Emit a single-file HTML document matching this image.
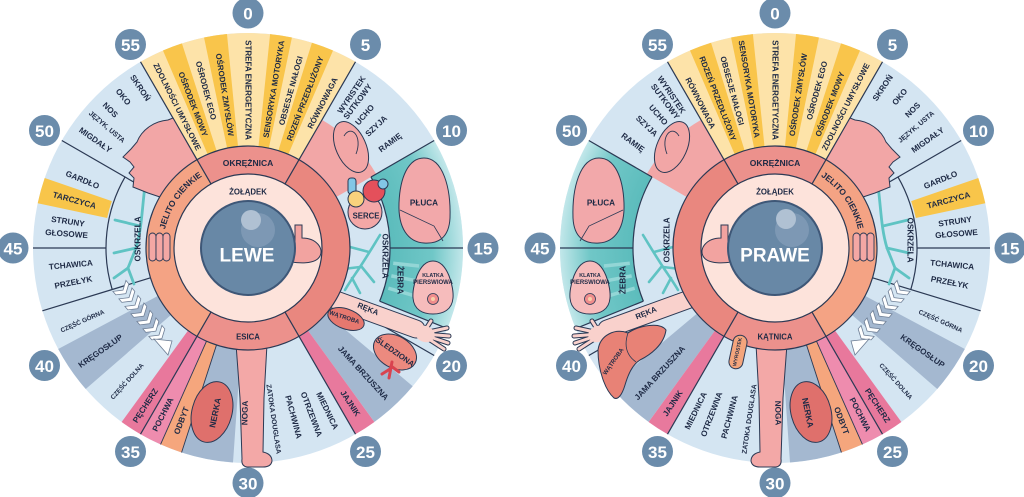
<!DOCTYPE html>
<html><head><meta charset="utf-8">
<style>
html,body{margin:0;padding:0;background:#fff;}
svg{display:block;}
text{font-family:"Liberation Sans",sans-serif;font-weight:700;fill:#1e2a45;}
.b{fill:#fff;font-size:17px;text-anchor:middle;dominant-baseline:central;}
.t{font-size:8.2px;text-anchor:middle;dominant-baseline:central;}
.c{font-size:8.2px;text-anchor:middle;dominant-baseline:central;}
.s85{font-size:8.5px;} .s8{font-size:8px;} .s78{font-size:7.8px;} .s7{font-size:7px;} .s64{font-size:6.4px;} .s6{font-size:6px;}
.s53{font-size:5.3px;} .s5{font-size:5px;}
.s18{font-size:19px;fill:#fff;}
</style></head><body>
<svg width="1024" height="497" viewBox="0 0 1024 497" xmlns="http://www.w3.org/2000/svg">
<defs>
<radialGradient id="teal" cx="0" cy="0" r="215" gradientUnits="userSpaceOnUse">
 <stop offset="0.66" stop-color="#5cbcbc"/>
 <stop offset="0.86" stop-color="#70c7c7"/>
 <stop offset="1" stop-color="#c2e7ea"/>
</radialGradient>
<path id="jcL" d="M163.3,255.4 A85,85 0 0 1 226,165.9" fill="none"/>
<path id="jcR" d="M797,165.9 A85,85 0 0 1 859.7,255.4" fill="none"/>
<path id="vert" d="M-8.5,-4 L0,1.5 L8.5,-4 L8.5,0.5 L0,6 L-8.5,0.5 Z"/>
<g id="eye">
 <circle r="215" fill="#d4e5f2"/>
 <g fill="none" stroke-width="113">
  <circle r="158.5" stroke="#fde3a9" stroke-dasharray="166 2000" transform="rotate(-120)"/>
  <circle r="158.5" stroke="#f9c54b" stroke-dasharray="14.94 2000" transform="rotate(-113.3)"/>
  <circle r="158.5" stroke="#f9c54b" stroke-dasharray="17.15 2000" transform="rotate(-101.8)"/>
  <circle r="158.5" stroke="#f9c54b" stroke-dasharray="16.32 2000" transform="rotate(-84.1)"/>
  <circle r="158.5" stroke="#f9c54b" stroke-dasharray="16.6 2000" transform="rotate(-72.7)"/>
  <circle r="158.5" stroke="#a4b8d0" stroke-dasharray="38.73 2000" transform="rotate(40)"/>
  <circle r="158.5" stroke="#e8799d" stroke-dasharray="16.6 2000" transform="rotate(54)"/>
  <circle r="158.5" stroke="#a4b8d0" stroke-dasharray="38.73 2000" transform="rotate(94)"/>
  <circle r="158.5" stroke="#f5a67d" stroke-dasharray="16.6 2000" transform="rotate(108)"/>
  <circle r="158.5" stroke="#ee8cae" stroke-dasharray="16.6 2000" transform="rotate(114)"/>
  <circle r="158.5" stroke="#e8789c" stroke-dasharray="16.6 2000" transform="rotate(120)"/>
  <circle r="158.5" stroke="#a4b8d0" stroke-dasharray="35.96 2000" transform="rotate(139)"/>
 </g>
 <circle r="178.5" fill="none" stroke="url(#teal)" stroke-width="73" stroke-dasharray="162 2000" transform="rotate(-30)"/>
 <circle r="179.5" fill="none" stroke="#f8c54a" stroke-width="71" stroke-dasharray="21.93 2000" transform="rotate(192)"/>
 <circle r="125" fill="none" stroke="#f2a6a6" stroke-width="46" stroke-dasharray="65.45 2000" transform="rotate(-60)"/>
 <g stroke="#93d6d6" stroke-width="3.5">
  <line y1="-146" y2="-172" transform="rotate(96)"/>
  <line y1="-146" y2="-172" transform="rotate(101)"/>
  <line y1="-146" y2="-172" transform="rotate(106)"/>
 </g>
 <g stroke="#2b3954" stroke-width="1.2" fill="none">
  <line y1="-102" y2="-215" transform="rotate(-30)"/>
  <line y1="-102" y2="-215" transform="rotate(30)"/>
  <line y1="-142" y2="-215" transform="rotate(60)"/>
  <line y1="-142" y2="-215" transform="rotate(90)"/>
  <line y1="-142" y2="-215" transform="rotate(112)"/>
  <line y1="-150" y2="-215" transform="rotate(120)"/>
  <line y1="-102" y2="-215" transform="rotate(150)"/>
  <line y1="-102" y2="-215" transform="rotate(198)" stroke-width="0.9"/>
  <line y1="-102" y2="-215" transform="rotate(204)" stroke-width="0.9"/>
  <line y1="-102" y2="-215" transform="rotate(210)"/>
  <line y1="-102" y2="-215" transform="rotate(253)"/>
  <line y1="-142" y2="-215" transform="rotate(270)"/>
  <line y1="-102" y2="-215" transform="rotate(300)"/>
  <circle r="142" stroke-dasharray="116.5 2000" transform="rotate(163)"/>
  <circle r="142" stroke-dasharray="128.9 2000" transform="rotate(-30)"/>
 </g>
 <g stroke="#5fc3c3" stroke-width="2.6" fill="none" stroke-linecap="round">
  <path d="M132,-13 C124,0 118,10 112,19 C106,28 101,35 97,42"/>
  <path d="M112,19 L95,21"/>
  <path d="M113,18 L126,34"/>
  <path d="M121,4 L102,-1"/>
  <path d="M104,30 L112,45"/>
 </g>
 <g stroke="#5fc3c3" stroke-width="2.8" fill="none" stroke-linecap="round">
  <path d="M-103,-62 C-106,-40 -106,-20 -112,0 L-120,20"/>
  <path d="M-112,0 L-134,5"/>
  <path d="M-108,-22 L-133,-28"/>
  <path d="M-120,20 L-134,30"/>
  <path d="M-120,20 L-114,36"/>
 </g>
 <path d="M176,-90 C195,-90 203,-60 202,-30 C201,-10 190,-4 176,-5 C160,-6 150,-20 151,-45 C152,-70 160,-90 176,-90 Z" fill="#f2a8aa" stroke="#2b3954" stroke-width="1"/>
 <path d="M152,-38 L186,-22 L195,-7" fill="none" stroke="#2b3954" stroke-width="0.8"/>
 <path d="M185,13 C200,13 206,40 205,50 C204,62 195,66 185,66 C175,66 166,62 165,50 C164,40 170,13 185,13 Z" fill="#f6bcbc" stroke="#2b3954" stroke-width="1"/>
 <circle cx="185" cy="51" r="5.5" fill="#ef8c8c" stroke="#2b3954" stroke-width="0.8"/>
 <circle cx="185" cy="51" r="2" fill="#f8d0a8"/>
 <path d="M-75,-130 L-51,-88 A102,102 0 0 0 -88,-51 L-100,-55 L-115,-61 L-114,-70 L-119,-75 L-114,-81 L-118,-86 L-125,-91 L-117,-99 L-111,-106 C-106,-119 -93,-127 -80,-128 Z" fill="#f2a6a6" stroke="#2b3954" stroke-width="1"/>
 <ellipse cx="103" cy="-101" rx="15" ry="27" transform="rotate(-24 103 -101)" fill="#f2a6a6" stroke="#2b3954" stroke-width="1"/>
 <path d="M96,-112 C103,-124 115,-112 108,-94" fill="none" stroke="#2b3954" stroke-width="0.9"/>
 <path d="M-12,96 L19,96 L16,150 L15,204 Q24,206 24,213 Q23,219 15,219 L-1,219 Q-7,218 -6,211 L-8,150 Z" fill="#f3a8a7" stroke="#2b3954" stroke-width="1"/>
 <ellipse cx="-36" cy="164" rx="20" ry="31" transform="rotate(15 -36 164)" fill="#df706c" stroke="#2b3954" stroke-width="1"/>
 <g fill="#fff" stroke="#6f7f96" stroke-width="0.8">
  <use href="#vert" transform="translate(-126,41) rotate(-40)"/>
  <use href="#vert" transform="translate(-120,48.5) rotate(-40)"/>
  <use href="#vert" transform="translate(-114,56) rotate(-40)"/>
  <use href="#vert" transform="translate(-108,63.5) rotate(-40)"/>
  <use href="#vert" transform="translate(-102,71) rotate(-40)"/>
  <use href="#vert" transform="translate(-96,78.5) rotate(-40)"/>
  <use href="#vert" transform="translate(-90,86) rotate(-40)"/>
  <path d="M-94,91 L-76,93 L-80,107 Z"/>
 </g>
 <line x1="77" y1="48" x2="168" y2="81" stroke="#2b3954" stroke-width="19" stroke-linecap="round"/>
 <g stroke="#2b3954" stroke-width="5" stroke-linecap="round">
  <line x1="176" y1="85" x2="199" y2="80"/><line x1="176" y1="86" x2="201" y2="88"/>
  <line x1="176" y1="87" x2="200" y2="95"/><line x1="176" y1="88" x2="196" y2="101"/>
  <line x1="176" y1="84" x2="183" y2="73"/>
 </g>
 <line x1="77" y1="48" x2="168" y2="81" stroke="#f9d1cc" stroke-width="17" stroke-linecap="round"/>
 <g stroke="#f9d1cc" stroke-width="3" stroke-linecap="round">
  <line x1="176" y1="85" x2="199" y2="80"/><line x1="176" y1="86" x2="201" y2="88"/>
  <line x1="176" y1="87" x2="200" y2="95"/><line x1="176" y1="88" x2="196" y2="101"/>
  <line x1="176" y1="84" x2="183" y2="73"/>
 </g>
 <ellipse cx="177" cy="86" rx="10" ry="8" transform="rotate(20 177 86)" fill="#f9d1cc"/>
 <g fill="none" stroke-width="28">
  <circle r="88" stroke="#f4a384" stroke-dasharray="184.3 2000" transform="rotate(120)"/>
  <circle r="88" stroke="#e9877f" stroke-dasharray="184.3 2000" transform="rotate(-60)"/>
  <circle r="88" stroke="#ec918c" stroke-dasharray="92.15 2000" transform="rotate(-120)"/>
  <circle r="88" stroke="#ec918c" stroke-dasharray="92.15 2000" transform="rotate(60)"/>
 </g>
 <circle r="74" fill="#fde3db"/>
 <g stroke="#2b3954" stroke-width="1.2" fill="none">
  <circle r="102"/><circle r="74"/>
  <line y1="-74" y2="-102" transform="rotate(-30)"/>
  <line y1="-74" y2="-102" transform="rotate(30)"/>
  <line y1="-74" y2="-102" transform="rotate(150)"/>
  <line y1="-74" y2="-102" transform="rotate(210)"/>
 </g>
 <g fill="#f4a7a4" stroke="#2b3954" stroke-width="0.9">
  <rect x="-99" y="-15" width="7" height="28" rx="3.5"/>
  <rect x="-92" y="-15" width="7" height="28" rx="3.5"/>
  <rect x="-85" y="-15" width="7" height="28" rx="3.5"/>
 </g>
 <path d="M47,-23 L54,-23 L54,-10 C68,-10 76,0 72,8 C68,16 52,17 29,11 L30,5 C40,7 47,4 47,-4 Z" fill="#f2a3a0" stroke="#2b3954" stroke-width="1"/>
 <circle r="47" fill="#6888a6" stroke="#3e5777" stroke-width="2"/>
</g>
</defs>

<use href="#eye" transform="translate(248,248)"/>
<use href="#eye" transform="translate(775,248) scale(-1,1)"/>

<circle cx="258" cy="230" r="17" fill="#7d98b4"/>
<circle cx="251" cy="220" r="10" fill="#b0c1d3"/>
<circle cx="792" cy="230" r="17" fill="#7d98b4"/>
<circle cx="786" cy="219" r="10" fill="#b0c1d3"/>

<g stroke="#2b3954" stroke-width="1">
 <ellipse cx="365" cy="212" rx="17" ry="17" fill="#f3a7a6"/>
 <rect x="348" y="178" width="8" height="16" rx="3" fill="#82c7e6"/>
 <circle cx="374" cy="191" r="11" fill="#e4505b"/>
 <circle cx="356" cy="199" r="8" fill="#f8d27c"/>
 <circle cx="383" cy="184" r="5" fill="#82c7e6"/>
 <ellipse cx="395" cy="352" rx="23" ry="16" transform="rotate(30 395 352)" fill="#ec8a7f"/>
 <ellipse cx="346" cy="319" rx="19" ry="10" transform="rotate(20 346 319)" fill="#e6786f"/>
</g>
<path d="M392,362 L389,378 M390,369 L382,374 M391,366 L399,372" stroke="#d9434f" stroke-width="3" fill="none" stroke-linecap="round"/>

<path d="M598,350 C600,335 615,328 628,333 C640,325 660,322 666,330 C664,345 650,355 640,360 C632,365 628,375 625,385 C622,395 618,400 614,398 C605,390 598,370 598,350 Z" fill="#e88276" stroke="#2b3954" stroke-width="1"/>
<path d="M628,333 C624,345 626,355 636,362" fill="none" stroke="#2b3954" stroke-width="0.8"/>
<rect x="731" y="335" width="14" height="34" rx="7" transform="rotate(12 738 352)" fill="#f4a57c" stroke="#2b3954" stroke-width="1"/>

<g fill="#6b8cab">
 <circle cx="248" cy="13" r="15.5"/><circle cx="365.5" cy="44.5" r="15.5"/><circle cx="451.5" cy="130.5" r="15.5"/><circle cx="483" cy="248" r="15.5"/><circle cx="451.5" cy="365.5" r="15.5"/><circle cx="365.5" cy="451.5" r="15.5"/><circle cx="248" cy="483" r="15.5"/><circle cx="130.5" cy="451.5" r="15.5"/><circle cx="44.5" cy="365.5" r="15.5"/><circle cx="13" cy="248" r="15.5"/><circle cx="44.5" cy="130.5" r="15.5"/><circle cx="130.5" cy="44.5" r="15.5"/>
 <circle cx="775" cy="13" r="15.5"/><circle cx="892.5" cy="44.5" r="15.5"/><circle cx="978.5" cy="130.5" r="15.5"/><circle cx="1010" cy="248" r="15.5"/><circle cx="978.5" cy="365.5" r="15.5"/><circle cx="892.5" cy="451.5" r="15.5"/><circle cx="775" cy="483" r="15.5"/><circle cx="657.5" cy="451.5" r="15.5"/><circle cx="571.5" cy="365.5" r="15.5"/><circle cx="540" cy="248" r="15.5"/><circle cx="571.5" cy="130.5" r="15.5"/><circle cx="657.5" cy="44.5" r="15.5"/>
</g>
<text class="b" x="248" y="14">0</text><text class="b" x="365.5" y="45.5">5</text><text class="b" x="451.5" y="131.5">10</text><text class="b" x="483" y="249">15</text><text class="b" x="451.5" y="366.5">20</text><text class="b" x="365.5" y="452.5">25</text><text class="b" x="248" y="484">30</text><text class="b" x="130.5" y="452.5">35</text><text class="b" x="44.5" y="366.5">40</text><text class="b" x="13" y="249">45</text><text class="b" x="44.5" y="131.5">50</text><text class="b" x="130.5" y="45.5">55</text>
<text class="b" x="775" y="14">0</text><text class="b" x="892.5" y="45.5">5</text><text class="b" x="978.5" y="131.5">10</text><text class="b" x="1010" y="249">15</text><text class="b" x="978.5" y="366.5">20</text><text class="b" x="892.5" y="452.5">25</text><text class="b" x="775" y="484">30</text><text class="b" x="657.5" y="452.5">35</text><text class="b" x="571.5" y="366.5">40</text><text class="b" x="540" y="249">45</text><text class="b" x="571.5" y="131.5">50</text><text class="b" x="657.5" y="45.5">55</text>

<!-- LEFT EYE TEXT -->
<g transform="translate(248,248)">
 <text class="t s8" transform="rotate(-26.7) translate(0,-158) rotate(90)">ZDOLNOŚCI UMYSŁOWE</text>
 <text class="t s8" transform="rotate(-21) translate(0,-154) rotate(90)">OŚRODEK MOWY</text>
 <text class="t s8" transform="rotate(-15) translate(0,-163) rotate(90)">OŚRODEK EGO</text>
 <text class="t s8" transform="rotate(-8.7) translate(0,-155) rotate(90)">OŚRODEK ZMYSŁÓW</text>
 <text class="t s8" transform="rotate(0) translate(0,-158) rotate(90)">STREFA ENERGETYCZNA</text>
 <text class="t s8" transform="rotate(9.3) translate(0,-161) rotate(-90)">SENSORYKA MOTORYKA</text>
 <text class="t s8" transform="rotate(15.3) translate(0,-163) rotate(-90)">OBSESJE NAŁOGI</text>
 <text class="t s8" transform="rotate(21) translate(0,-160) rotate(-90)">RDZEŃ PRZEDŁUŻONY</text>
 <text class="t s8" transform="rotate(27.3) translate(0,-163) rotate(-90)">RÓWNOWAGA</text>
 <text class="t" transform="rotate(34.1) translate(0,-185) rotate(-90)">WYRISTEK</text>
 <text class="t" transform="rotate(36.9) translate(0,-183) rotate(-90)">SUTKOWY</text>
 <text class="t" transform="rotate(41.3) translate(0,-177) rotate(-90)">UCHO</text>
 <text class="t" transform="rotate(46.5) translate(0,-177) rotate(-90)">SZYJA</text>
 <text class="t" transform="rotate(53.5) translate(0,-177) rotate(-90)">RAMIĘ</text>
 <text class="t" transform="rotate(137.4) translate(0,-170) rotate(-90)">JAMA BRZUSZNA</text>
 <text class="t" transform="rotate(146.7) translate(0,-186) rotate(-90)">JAJNIK</text>
 <text class="t" transform="rotate(154.1) translate(0,-181) rotate(-90)">MIEDNICA</text>
 <text class="t" transform="rotate(159.2) translate(0,-178) rotate(-90)">OTRZEWNA</text>
 <text class="t" transform="rotate(165) translate(0,-175) rotate(-90)">PACHWINA</text>
 <text class="t s7" transform="rotate(171.7) translate(0,-173) rotate(-90)">ZATOKA DOUGLASA</text>
 <text class="t" transform="rotate(181) translate(0,-165) rotate(90)">NOGA</text>
 <text class="t s85" transform="rotate(191.3) translate(0,-168) rotate(90)">NERKA</text>
 <text class="t" transform="rotate(201) translate(0,-185) rotate(90)">ODBYT</text>
 <text class="t" transform="rotate(207) translate(0,-187) rotate(90)">POCHWA</text>
 <text class="t" transform="rotate(213) translate(0,-188) rotate(90)">PĘCHERZ</text>
 <text class="t s64" transform="rotate(222) translate(0,-180) rotate(90)">CZĘŚĆ DOLNA</text>
 <text class="t" transform="rotate(235) translate(0,-180) rotate(90)">KRĘGOSŁUP</text>
 <text class="t s64" transform="rotate(246) translate(0,-181) rotate(90)">CZĘŚĆ GÓRNA</text>
 <text class="t" transform="rotate(258.8) translate(0,-178) rotate(90)">PRZEŁYK</text>
 <text class="t" transform="rotate(264.5) translate(0,-178) rotate(90)">TCHAWICA</text>
 <text class="t" transform="rotate(274.4) translate(0,-182) rotate(90)">GŁOSOWE</text>
 <text class="t" transform="rotate(278.3) translate(0,-182) rotate(90)">STRUNY</text>
 <text class="t" transform="rotate(285.3) translate(0,-180) rotate(90)">TARCZYCA</text>
 <text class="t" transform="rotate(292.3) translate(0,-179) rotate(90)">GARDŁO</text>
 <text class="t" transform="rotate(305.2) translate(0,-187) rotate(90)">MIGDAŁY</text>
 <text class="t s7" transform="rotate(310.4) translate(0,-186) rotate(90)">JĘZYK, USTA</text>
 <text class="t" transform="rotate(315) translate(0,-195) rotate(90)">NOS</text>
 <text class="t" transform="rotate(320.4) translate(0,-196) rotate(90)">OKO</text>
 <text class="t" transform="rotate(326) translate(0,-193) rotate(90)">SKROŃ</text>
</g>
<text class="c" x="424" y="203">PŁUCA</text>
<text class="c s78" x="366" y="216">SERCE</text>
<text class="c" transform="translate(385,256) rotate(90)">OSKRZELA</text>
<text class="c" transform="translate(138,239) rotate(-90)">OSKRZELA</text>
<text class="c" transform="translate(400,280) rotate(90)">ŻEBRA</text>
<text class="c s53" x="433" y="276">KLATKA</text>
<text class="c s6" x="433" y="283">PIERSWIOWA</text>
<text class="c s78" transform="translate(368,309) rotate(22)">RĘKA</text>
<text class="c s6" transform="translate(344,318) rotate(18)">WĄTROBA</text>
<text class="c s78" transform="translate(395,352) rotate(35)">ŚLEDZIONA</text>
<text class="c s85" x="248" y="163">OKRĘŻNICA</text>
<text class="c s78" x="248" y="337">ESICA</text>
<text class="c s78" x="248" y="192">ŻOŁĄDEK</text>
<text style="font-size:8.5px"><textPath href="#jcL" startOffset="50%" text-anchor="middle">JELITO CIENKIE</textPath></text>
<text class="c s18" x="247" y="256">LEWE</text>

<!-- RIGHT EYE TEXT -->
<g transform="translate(775,248)">
 <text class="t s8" transform="rotate(26.7) translate(0,-158) rotate(-90)">ZDOLNOŚCI UMYSŁOWE</text>
 <text class="t s8" transform="rotate(21) translate(0,-154) rotate(-90)">OŚRODEK MOWY</text>
 <text class="t s8" transform="rotate(15) translate(0,-163) rotate(-90)">OŚRODEK EGO</text>
 <text class="t s8" transform="rotate(8.7) translate(0,-155) rotate(-90)">OŚRODEK ZMYSŁÓW</text>
 <text class="t s8" transform="rotate(0) translate(0,-158) rotate(90)">STREFA ENERGETYCZNA</text>
 <text class="t s8" transform="rotate(-9.3) translate(0,-161) rotate(90)">SENSORYKA MOTORYKA</text>
 <text class="t s8" transform="rotate(-15.3) translate(0,-163) rotate(90)">OBSESJE NAŁOGI</text>
 <text class="t s8" transform="rotate(-21) translate(0,-160) rotate(90)">RDZEŃ PRZEDŁUŻONY</text>
 <text class="t s8" transform="rotate(-27.3) translate(0,-163) rotate(90)">RÓWNOWAGA</text>
 <text class="t" transform="rotate(-34.1) translate(0,-185) rotate(90)">WYRISTEK</text>
 <text class="t" transform="rotate(-36.9) translate(0,-183) rotate(90)">SUTKOWY</text>
 <text class="t" transform="rotate(-41.3) translate(0,-177) rotate(90)">UCHO</text>
 <text class="t" transform="rotate(-46.5) translate(0,-177) rotate(90)">SZYJA</text>
 <text class="t" transform="rotate(-53.5) translate(0,-177) rotate(90)">RAMIĘ</text>
 <text class="t" transform="rotate(-137.4) translate(0,-170) rotate(90)">JAMA BRZUSZNA</text>
 <text class="t" transform="rotate(-146.7) translate(0,-186) rotate(90)">JAJNIK</text>
 <text class="t" transform="rotate(-154.1) translate(0,-181) rotate(90)">MIEDNICA</text>
 <text class="t" transform="rotate(-159.2) translate(0,-178) rotate(90)">OTRZEWNA</text>
 <text class="t" transform="rotate(-165) translate(0,-175) rotate(90)">PACHWINA</text>
 <text class="t s7" transform="rotate(-171.7) translate(0,-173) rotate(90)">ZATOKA DOUGLASA</text>
 <text class="t" transform="rotate(-181) translate(0,-165) rotate(-90)">NOGA</text>
 <text class="t s85" transform="rotate(-191.3) translate(0,-168) rotate(-90)">NERKA</text>
 <text class="t" transform="rotate(-201) translate(0,-185) rotate(-90)">ODBYT</text>
 <text class="t" transform="rotate(-207) translate(0,-187) rotate(-90)">POCHWA</text>
 <text class="t" transform="rotate(-213) translate(0,-188) rotate(-90)">PĘCHERZ</text>
 <text class="t s64" transform="rotate(-222) translate(0,-180) rotate(-90)">CZĘŚĆ DOLNA</text>
 <text class="t" transform="rotate(-235) translate(0,-180) rotate(-90)">KRĘGOSŁUP</text>
 <text class="t s64" transform="rotate(-246) translate(0,-181) rotate(-90)">CZĘŚĆ GÓRNA</text>
 <text class="t" transform="rotate(-258.8) translate(0,-178) rotate(-90)">PRZEŁYK</text>
 <text class="t" transform="rotate(-264.5) translate(0,-178) rotate(-90)">TCHAWICA</text>
 <text class="t" transform="rotate(-274.4) translate(0,-182) rotate(-90)">GŁOSOWE</text>
 <text class="t" transform="rotate(-278.3) translate(0,-182) rotate(-90)">STRUNY</text>
 <text class="t" transform="rotate(-285.3) translate(0,-180) rotate(-90)">TARCZYCA</text>
 <text class="t" transform="rotate(-292.3) translate(0,-179) rotate(-90)">GARDŁO</text>
 <text class="t" transform="rotate(-305.2) translate(0,-187) rotate(-90)">MIGDAŁY</text>
 <text class="t s7" transform="rotate(-310.4) translate(0,-186) rotate(-90)">JĘZYK, USTA</text>
 <text class="t" transform="rotate(-315) translate(0,-195) rotate(-90)">NOS</text>
 <text class="t" transform="rotate(-320.4) translate(0,-196) rotate(-90)">OKO</text>
 <text class="t" transform="rotate(-326) translate(0,-193) rotate(-90)">SKROŃ</text>
</g>
<text class="c" x="601" y="203">PŁUCA</text>
<text class="c" transform="translate(667,240) rotate(-90)">OSKRZELA</text>
<text class="c" transform="translate(910,240) rotate(90)">OSKRZELA</text>
<text class="c" transform="translate(623,280) rotate(-90)">ŻEBRA</text>
<text class="c s53" x="590" y="276">KLATKA</text>
<text class="c s6" x="590" y="283">PIERSWIOWA</text>
<text class="c s78" transform="translate(646,313) rotate(-22)">RĘKA</text>
<text class="c s6" transform="translate(614,362) rotate(-55)">WĄTROBA</text>
<text class="c s5" transform="translate(738,352) rotate(-78)">WYROSTEK</text>
<text class="c s85" x="775" y="163">OKRĘŻNICA</text>
<text class="c s78" x="775" y="337">KĄTNICA</text>
<text class="c s78" x="775" y="192">ŻOŁĄDEK</text>
<text style="font-size:8.5px"><textPath href="#jcR" startOffset="50%" text-anchor="middle">JELITO CIENKIE</textPath></text>
<text class="c s18" x="775" y="256">PRAWE</text>
</svg>
</body></html>
